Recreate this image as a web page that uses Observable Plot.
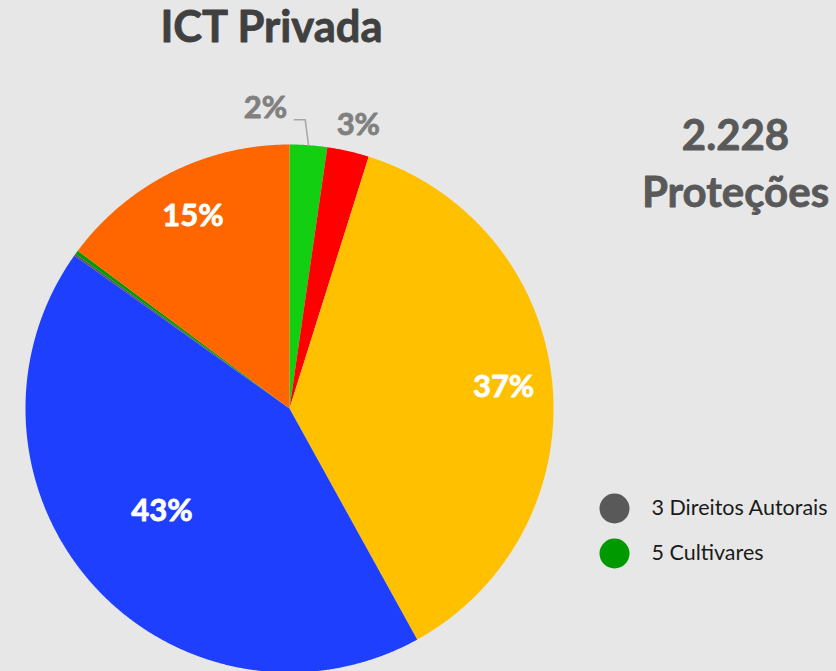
<!DOCTYPE html>
<html>
<head>
<meta charset="utf-8">
<script src="https://cdn.jsdelivr.net/npm/d3@7"></script>
<script src="https://cdn.jsdelivr.net/npm/@observablehq/plot@0.6"></script>
<style>
  html, body { margin: 0; padding: 0; background: #e7e7e7; }
  #chart { width: 836px; height: 671px; overflow: hidden; }
</style>
</head>
<body>
<div id="chart"></div>
<script>
// ---- data ----
const title = "ICT Privada";
const categories = ["Categoria A", "Categoria B", "Categoria C", "Categoria D", "Direitos Autorais", "Cultivares", "Categoria E"];
const counts = [51, 57, 827, 955, 3, 5, 330];
const colors = ["#12CF12", "#FF0000", "#FFC000", "#1F3FFF", "#595959", "#009900", "#FF6600"];
const legendLabels = ["3 Direitos Autorais", "5 Cultivares"];
const legendColors = ["#595959", "#009900"];
const totalLabelSuffix = "Proteções";

// ---- layout ----
const W = 836, H = 671;
const cx = 289, cy = 408, R = 264;
const total = d3.sum(counts);

const arcs = d3.pie().sort(null).value(d => d)(counts);
const polar = (a, r) => [cx + r * Math.sin(a), cy - r * Math.cos(a)];

// slice polygons
const slicePts = [];
arcs.forEach((a, i) => {
  const step = Math.PI / 720;
  slicePts.push({i, x: cx, y: cy, color: colors[i]});
  const n = Math.max(2, Math.ceil((a.endAngle - a.startAngle) / step));
  for (let k = 0; k <= n; k++) {
    const t = a.startAngle + (a.endAngle - a.startAngle) * k / n;
    const [x, y] = polar(t, R);
    slicePts.push({i, x, y, color: colors[i]});
  }
});

// percent labels
const pct = v => Math.round(v / total * 100) + "%";
const inside = [];
const outside = [];
const deg = Math.PI / 180;
arcs.forEach((a, i) => {
  const share = counts[i] / total;
  if (share < 0.01) return;
  const mid = (a.startAngle + a.endAngle) / 2;
  if (share >= 0.1) {
    const rf = i === 3 ? 0.62 : 0.815;
    const ang = i === 3 ? mid + 3 * deg : mid;
    const [x, y] = polar(ang, R * rf);
    inside.push({x, y, text: pct(counts[i])});
  } else {
    outside.push({i, mid, text: pct(counts[i])});
  }
});
const outsideLabels = [];
const leader = [];
outside.forEach(o => {
  if (o.i === 0) {
    const [x, y] = polar(-4.6 * deg, R * 1.14);
    outsideLabels.push({x, y, text: o.text});
    const p0 = polar(o.mid, R);
    const p1 = polar(o.mid - 1.0 * deg, R * 1.095);
    leader.push({x: p0[0], y: p0[1]}, {x: p1[0], y: p1[1]}, {x: p1[0] - 11, y: p1[1]});
  } else {
    const [x, y] = polar(o.mid + 0.8 * deg, R * 1.105);
    outsideLabels.push({x, y, text: o.text});
  }
});

const legend = legendLabels.map((t, k) => ({text: t, color: legendColors[k], k}));

const plot = Plot.plot({
  width: W, height: H,
  margin: 0,
  x: {domain: [0, W], range: [0, W], axis: null},
  y: {domain: [0, H], range: [0, H], axis: null},
  color: {type: "identity"},
  style: {background: "#e7e7e7", fontFamily: "Lato, 'Open Sans', sans-serif", overflow: "hidden"},
  marks: [
    Plot.line(slicePts, {x: "x", y: "y", z: "i", fill: "color", stroke: "none"}),
    Plot.line(leader, {x: "x", y: "y", stroke: "#a6a6a6", strokeWidth: 1.5}),
    Plot.text(inside, {x: "x", y: "y", text: "text", fill: "white", stroke: "white", strokeWidth: 0.8, fontSize: 31, fontWeight: "bold"}),
    Plot.text(outsideLabels, {x: "x", y: "y", text: "text", fill: "#808080", stroke: "#808080", strokeWidth: 0.8, fontSize: 31, fontWeight: "bold"}),
    Plot.text([title], {x: 271, y: 28, text: d => d, fill: "#404040", stroke: "#404040", strokeWidth: 0.8, fontSize: 43.5, fontWeight: "bold"}),
    Plot.text([total.toLocaleString("pt-BR")], {x: 735, y: 136, text: d => d, fill: "#595959", stroke: "#595959", strokeWidth: 0.8, fontSize: 42, fontWeight: "bold"}),
    Plot.text([totalLabelSuffix], {x: 735, y: 193, text: d => d, fill: "#595959", stroke: "#595959", strokeWidth: 0.8, fontSize: 42, fontWeight: "bold"}),
    Plot.dot(legend, {x: 614, y: d => 508 + d.k * 45, r: 15, fill: "color"}),
    Plot.text(legend, {x: 651, y: d => 508 + d.k * 45, text: "text", fill: "#1a1a1a", fontSize: 21.5, textAnchor: "start"})
  ]
});
document.getElementById("chart").appendChild(plot);
</script>
</body>
</html>
